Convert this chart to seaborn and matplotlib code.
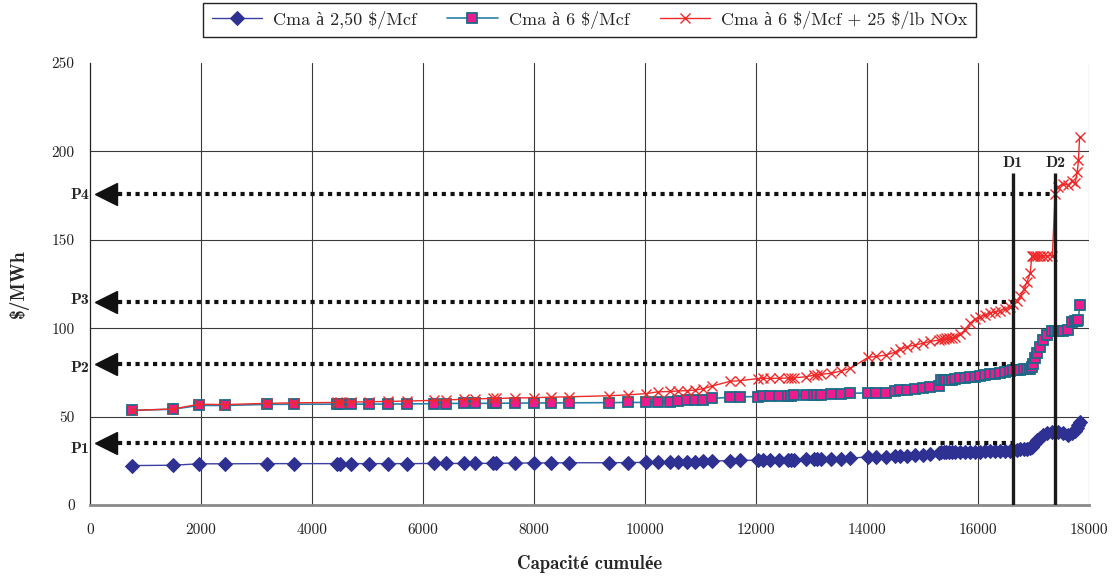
import matplotlib
matplotlib.use("Agg")
import matplotlib.pyplot as plt
import seaborn as sns
import pandas as pd

# ---------------- data ----------------
capacity = [750, 1500, 1960, 2430, 3190, 3680, 4450, 4500, 4700, 5030, 5370, 5720,
            6200, 6410, 6730, 6940, 7270, 7320, 7660, 8000, 8310, 8630,
            9360, 9690, 10020, 10230, 10450, 10600, 10760, 10900, 11050, 11210,
            11540, 11710, 12030, 12130, 12250, 12420, 12570, 12630, 12690, 12900,
            13050, 13100, 13180, 13360, 13530, 13700, 14020, 14160, 14340, 14510,
            14600, 14720, 14870, 15010, 15140, 15290, 15330, 15380, 15430, 15480,
            15530, 15590, 15680, 15770, 15860, 15950, 16040, 16130, 16220, 16310,
            16400, 16490, 16580, 16630, 16700, 16760, 16830, 16880, 16940, 16970,
            16990, 17030, 17070, 17120, 17180, 17250, 17340, 17390, 17440, 17530,
            17620, 17690, 17750, 17790, 17810, 17830]

cma_250 = [22.3, 22.5, 23.3, 23.3, 23.4, 23.4, 23.4, 23.4, 23.4, 23.4, 23.4, 23.4,
           23.5, 23.5, 23.5, 23.5, 23.6, 23.6, 23.7, 23.8, 23.8, 23.9,
           23.9, 24.0, 24.1, 24.2, 24.3, 24.4, 24.5, 24.6, 24.7, 24.9,
           25.1, 25.2, 25.4, 25.4, 25.5, 25.5, 25.6, 25.6, 25.7, 25.8,
           25.9, 25.9, 26.0, 26.1, 26.2, 26.4, 27.3, 27.3, 27.4, 27.6,
           27.7, 27.8, 28.0, 28.3, 28.8, 29.5, 29.7, 29.8, 29.9, 30.0,
           30.0, 30.0, 30.0, 30.1, 30.1, 30.2, 30.2, 30.3, 30.3, 30.4,
           30.5, 30.6, 30.8, 31.0, 31.2, 31.4, 31.6, 31.8, 32.0, 33.0,
           34.0, 35.0, 36.5, 38.0, 39.5, 40.5, 41.2, 41.5, 41.5, 40.5,
           39.6, 41.0, 42.0, 43.4, 45.0, 47.0]

cma_6 = [53.5, 54.2, 56.3, 56.3, 56.9, 57.0, 57.0, 57.0, 57.0, 57.1, 57.1, 57.2,
         57.3, 57.4, 57.5, 57.5, 57.5, 57.6, 57.6, 57.7, 57.7, 57.8,
         57.9, 58.0, 58.0, 58.4, 58.5, 58.7, 59.2, 59.4, 59.6, 60.3,
         60.9, 61.2, 61.3, 61.4, 61.5, 61.6, 61.8, 61.9, 62.0, 62.1,
         62.2, 62.3, 62.5, 62.7, 63.0, 63.2, 63.4, 63.5, 63.6, 64.5,
         64.8, 65.0, 65.6, 66.0, 66.8, 67.3, 70.5, 70.6, 70.6, 70.7,
         70.8, 71.2, 71.6, 72.0, 72.2, 72.4, 73.0, 73.5, 74.0, 74.3,
         74.6, 75.2, 76.0, 76.4, 76.5, 76.6, 76.8, 77.0, 77.2, 78.2,
         80.0, 83.0, 86.0, 89.6, 93.3, 96.2, 98.6, 98.6, 98.6, 98.6,
         98.8, 103.5, 104.0, 104.3, 104.5, 113.0]

cma_6_nox = [53.5, 54.3, 57.0, 56.8, 57.5, 57.8, 58.0, 58.2, 58.2, 58.4, 58.6, 58.8,
             59.2, 59.4, 59.8, 60.0, 60.3, 60.3, 60.5, 60.7, 61.0, 61.2,
             61.8, 62.3, 63.0, 64.0, 64.2, 64.5, 64.7, 65.0, 65.8, 67.3,
             70.0, 70.3, 71.5, 71.6, 71.6, 71.7, 71.8, 71.8, 72.0, 72.5,
             73.5, 73.8, 74.0, 74.5, 75.8, 77.3, 83.5, 84.0, 84.8, 86.5,
             88.0, 89.5, 90.5, 91.5, 92.5, 93.3, 93.8, 94.0, 94.2, 94.4,
             94.5, 95.0, 96.5, 99.0, 103.0, 105.0, 106.5, 107.5, 108.5, 109.3,
             110.0, 111.0, 112.0, 113.5, 115.5, 118.0, 122.0, 126.0, 131.0, 141.0,
             141.0, 141.0, 141.0, 141.0, 141.0, 141.0, 141.0, 176.0, 180.0, 181.5,
             181.0, 183.0, 182.0, 188.5, 195.0, 208.0]

series_labels = ["Cma à 2,50 \\$/Mcf", "Cma à 6 \\$/Mcf", "Cma à 6 \\$/Mcf + 25 \\$/lb NOx"]

price_labels = ["P1", "P2", "P3", "P4"]
price_levels = [35, 80, 115, 176]
price_ends = ["D1", "D1", "D1", "D2"]

demand_labels = ["D1", "D2"]
demand_x = [16630, 17390]
demand_top = 188

x_ticks = [0, 2000, 4000, 6000, 8000, 10000, 12000, 14000, 16000, 18000]
y_ticks = [0, 50, 100, 150, 200, 250]

# ---------------- style ----------------
sns.set_style("white")
regular = ["cmr10", "Liberation Serif"]
bold = ["cmb10", "Liberation Serif"]
plt.rcParams["font.family"] = regular
plt.rcParams["axes.unicode_minus"] = False

fig = plt.figure(figsize=(11.15, 5.81), dpi=100)
ax = fig.add_axes([90 / 1115, 1 - 505 / 581, 999 / 1115, 442 / 581])

df = pd.DataFrame({"cap": capacity, "a": cma_250, "b": cma_6, "c": cma_6_nox})

sns.lineplot(data=df, x="cap", y="a", ax=ax, estimator=None, sort=False,
             color="#3B3FA3", lw=1.0, marker="D", markersize=6.8,
             markerfacecolor="#2E3192", markeredgecolor="#2E3192",
             label=series_labels[0], zorder=3)
sns.lineplot(data=df, x="cap", y="b", ax=ax, estimator=None, sort=False,
             color="#2C7FA6", lw=1.2, marker="s", markersize=7.8,
             markerfacecolor="#EC1C8C", markeredgecolor="#1B6A8A", markeredgewidth=1.3,
             label=series_labels[1], zorder=4)
sns.lineplot(data=df, x="cap", y="c", ax=ax, estimator=None, sort=False,
             color="#EE2A2A", lw=1.0, marker="x", markersize=7.8,
             markeredgecolor="#EE2A2A", markeredgewidth=1.0,
             label=series_labels[2], zorder=5)

# price levels with arrows
dmap = dict(zip(demand_labels, demand_x))
label_shift = [-3.2, -2.3, 0.8, -0.5]
for lab, lvl, end, sh in zip(price_labels, price_levels, price_ends, label_shift):
    ax.hlines(lvl, 505, dmap[end], colors="#111111", lw=3.0,
              linestyles=(0, (1, 1.1)), zorder=6)
    ax.plot([290], [lvl], marker="<", markersize=16, color="#111111",
            clip_on=False, zorder=7)
    ax.text(-0.001, lvl + sh, lab, transform=ax.get_yaxis_transform(),
            ha="right", va="center", fontsize=11.5, family=bold, fontweight="bold")

# demand lines
for lab, dx in zip(demand_labels, demand_x):
    ax.vlines(dx, 0, demand_top, colors="#1a1a1a", lw=2.4, zorder=8)
    ax.text(dx, demand_top + 5.5, lab, ha="center", va="center",
            fontsize=11.5, family=bold, fontweight="bold")

# axes
ax.set_xlim(0, 18000)
ax.set_ylim(0, 250)
ax.set_xticks(x_ticks)
ax.set_yticks(y_ticks)
ax.set_xticklabels([str(t) for t in x_ticks], fontsize=11)
ax.set_yticklabels([str(t) for t in y_ticks], fontsize=11)
ax.grid(True, color="#3a3a3a", lw=0.8)
ax.set_axisbelow(True)
for t in ax.yaxis.get_major_ticks():
    if t.get_loc() in (0, 250):
        t.gridline.set_visible(False)
for t in ax.xaxis.get_major_ticks():
    if t.get_loc() == 0:
        t.gridline.set_visible(False)
ax.tick_params(axis="both", direction="out", length=5, width=0.8, color="#222222",
               labelcolor="#222222")
ax.tick_params(axis="y", pad=6)
ax.tick_params(axis="x", pad=8)
for s in ["top", "right"]:
    ax.spines[s].set_visible(False)
ax.spines["left"].set_color("#222222")
ax.spines["left"].set_linewidth(0.9)
ax.spines["bottom"].set_color("#8a8a8a")
ax.spines["bottom"].set_linewidth(2.0)

ax.set_xlabel("Capacité cumulée", fontsize=13.5, family=bold, fontweight="bold")
ax.set_ylabel("\\$/MWh", fontsize=14, family=bold, fontweight="bold")
ax.xaxis.set_label_coords(0.5, -0.112)
ax.yaxis.set_label_coords(-0.061, 0.5)

leg = ax.legend(loc="lower center", bbox_to_anchor=(0.5, 1.059), ncol=3,
                frameon=True, fancybox=False, framealpha=1, edgecolor="#222222",
                fontsize=13, handlelength=2.8, columnspacing=1.7,
                borderpad=0.45, handletextpad=0.6, borderaxespad=0)
leg.get_frame().set_linewidth(1.0)

fig.savefig("out.png", dpi=100)
